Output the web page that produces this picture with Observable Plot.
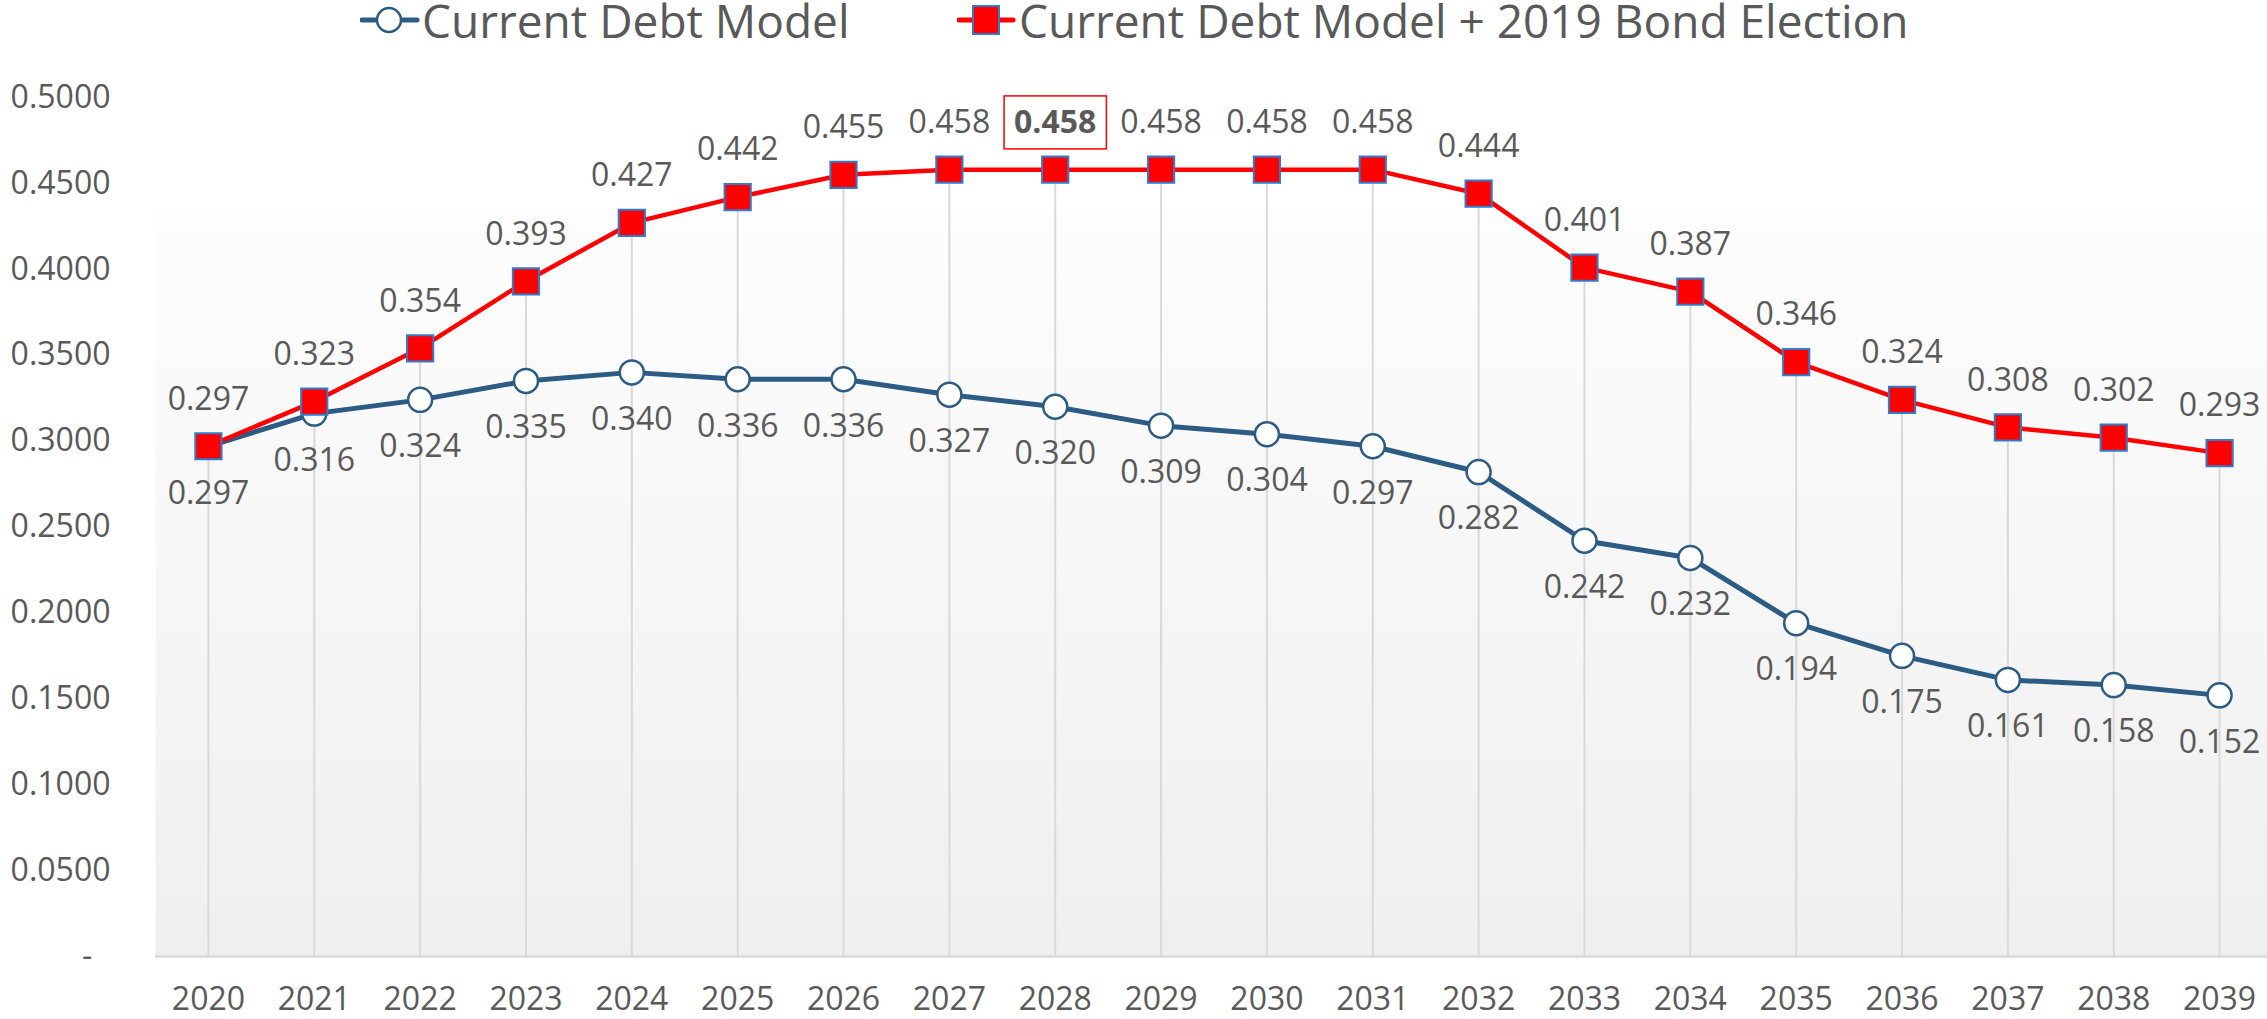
<!DOCTYPE html>
<html>
<head>
<meta charset="utf-8">
<script src="https://cdn.jsdelivr.net/npm/d3@7"></script>
<script src="https://cdn.jsdelivr.net/npm/@observablehq/plot@0.6"></script>
<style>
  html, body { margin: 0; padding: 0; background: #ffffff; }
  body { width: 2267px; height: 1019px; overflow: hidden; font-family: "Open Sans", sans-serif; color: #595959; }
  #legend { position: relative; height: 44px; width: 2267px; }
  .item { position: absolute; top: 0; height: 44px; }
  .item svg { position: absolute; top: 0; }
  .item span { position: absolute; top: 2px; font-size: 46px; line-height: 37px; white-space: nowrap; color: #595959; }
</style>
</head>
<body>
<div id="legend"></div>
<div id="chart"></div>
<script>
// ---- data ----
const years = ["2020","2021","2022","2023","2024","2025","2026","2027","2028","2029",
               "2030","2031","2032","2033","2034","2035","2036","2037","2038","2039"];
const currentDebt = [0.297,0.316,0.324,0.335,0.340,0.336,0.336,0.327,0.320,0.309,
                     0.304,0.297,0.282,0.242,0.232,0.194,0.175,0.161,0.158,0.152];
const withBond    = [0.297,0.323,0.354,0.393,0.427,0.442,0.455,0.458,0.458,0.458,
                     0.458,0.458,0.444,0.401,0.387,0.346,0.324,0.308,0.302,0.293];
const seriesNames = ["Current Debt Model", "Current Debt Model + 2019 Bond Election"];
const yTicks = [0,0.05,0.10,0.15,0.20,0.25,0.30,0.35,0.40,0.45,0.50];
const highlightYear = "2028";

// ---- styles ----
const blue = "#2c5b84";
const red = "#ff0000";
const squareStroke = "#2e7ccf";
const textColor = "#595959";

const rows = years.map((year, i) => ({year, current: currentDebt[i], bond: withBond[i]}));

// ---- legend ----
const legend = document.getElementById("legend");
legend.innerHTML = `
  <div class="item" style="left:360px">
    <svg width="60" height="44" style="left:0">
      <line x1="2" x2="57" y1="20" y2="20" stroke="${blue}" stroke-width="5" stroke-linecap="round"/>
      <circle cx="29" cy="20" r="12" fill="#fff" stroke="${blue}" stroke-width="2.5"/>
    </svg>
    <span style="left:62px">${seriesNames[0]}</span>
  </div>
  <div class="item" style="left:957px">
    <svg width="60" height="44" style="left:0">
      <line x1="2" x2="56" y1="20" y2="20" stroke="${red}" stroke-width="5" stroke-linecap="round"/>
      <rect x="16" y="6" width="26" height="28" fill="${red}" stroke="${squareStroke}" stroke-width="2"/>
    </svg>
    <span style="left:62px">${seriesNames[1]}</span>
  </div>`;

// ---- chart ----
const chart = Plot.plot({
  width: 2267,
  height: 975,
  marginLeft: 155,
  marginRight: -5,
  marginTop: 53,
  marginBottom: 63,
  style: {fontFamily: "'Open Sans', sans-serif", fontSize: "32px", color: textColor, background: "white"},
  x: {type: "point", domain: years, padding: 0.5, round: false, label: null},
  y: {domain: [0, 0.5], label: null},
  marks: [
    Plot.frame({fill: "#f6f6f6", stroke: null, ariaLabel: "plotbg"}),
    Plot.ruleX(rows, {x: "year", y1: 0, y2: d => Math.max(d.current, d.bond), stroke: "#d9d9d9", strokeWidth: 2}),
    Plot.ruleY([0], {stroke: "#d9d9d9", strokeWidth: 2.5}),
    Plot.axisX({tickSize: 0, tickPadding: 31, fill: textColor, fontSize: 32}),
    Plot.axisY({ticks: yTicks, tickSize: 0, tickPadding: 45, fill: textColor, fontSize: 32,
                tickFormat: d => d === 0 ? "-\u2007" : d3.format(".4f")(d)}),
    Plot.line(rows, {x: "year", y: "current", stroke: blue, strokeWidth: 5}),
    Plot.dot(rows, {x: "year", y: "current", r: 12, fill: "white", stroke: blue, strokeWidth: 2.5}),
    Plot.line(rows, {x: "year", y: "bond", stroke: red, strokeWidth: 4.5}),
    Plot.dot(rows, {x: "year", y: "bond", symbol: "square", r: 14.8, fill: red, stroke: squareStroke, strokeWidth: 2}),
    Plot.text(rows, {x: "year", y: "current", text: d => d.current.toFixed(3), dy: 47, fill: textColor, fontSize: 32}),
    Plot.text(rows.filter(d => d.year !== highlightYear), {x: "year", y: "bond", text: d => d.bond.toFixed(3), dy: -47, fill: textColor, fontSize: 32}),
    Plot.text(rows.filter(d => d.year === highlightYear), {x: "year", y: "bond", text: d => d.bond.toFixed(3), dy: -47, fill: textColor, fontSize: 32, fontWeight: "bold"})
  ]
});
document.getElementById("chart").appendChild(chart);

// gradient background for plot area
const ns = "http://www.w3.org/2000/svg";
const defs = document.createElementNS(ns, "defs");
defs.innerHTML = `<linearGradient id="plotbg" x1="0" y1="0" x2="0" y2="1">
  <stop offset="0" stop-color="#ffffff"/>
  <stop offset="0.13" stop-color="#ffffff"/>
  <stop offset="0.14" stop-color="#fdfdfd"/>
  <stop offset="1" stop-color="#efefef"/>
</linearGradient>`;
chart.insertBefore(defs, chart.firstChild);
const bg = chart.querySelector('g[aria-label="plotbg"] rect') || chart.querySelector('[aria-label="frame"] rect') || chart.querySelector('rect');
if (bg) bg.setAttribute("fill", "url(#plotbg)");

// box around highlighted label (derived from the rendered bold label's position)
let ht = null;
chart.querySelectorAll("text").forEach(t => {
  const w = getComputedStyle(t).fontWeight;
  if (w === "bold" || +w >= 600) ht = t;
});
if (ht) {
  const sb = chart.getBoundingClientRect();
  const tb = ht.getBoundingClientRect();
  const r = document.createElementNS(ns, "rect");
  r.setAttribute("x", tb.left - sb.left - 10);
  r.setAttribute("y", tb.top - sb.top - 3);
  r.setAttribute("width", tb.width + 20);
  r.setAttribute("height", tb.height + 10);
  r.setAttribute("fill", "none");
  r.setAttribute("stroke", "#ff0000");
  r.setAttribute("stroke-width", 1.5);
  chart.appendChild(r);
}
</script>
</body>
</html>
